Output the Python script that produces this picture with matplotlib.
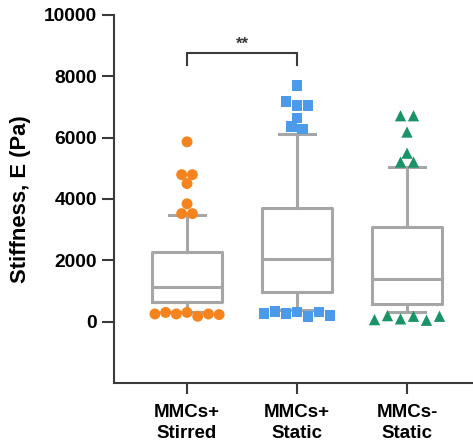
import matplotlib
matplotlib.use("Agg")
import matplotlib.pyplot as plt
import numpy as np

plt.rcParams['font.family'] = ['Liberation Sans', 'DejaVu Sans']
plt.rcParams['font.weight'] = 'bold'

categories = ["MMCs+\nStirred", "MMCs+\nStatic", "MMCs-\nStatic"]

# box statistics (Pa)
q1 = [630, 970, 590]
medians = [1120, 2050, 1400]
q3 = [2260, 3700, 3070]
whislo = [330, 380, 300]
whishi = [3460, 6110, 5030]

# individual points shown beyond the whiskers (Pa), listed top-down, left-right
stirred_pts = [5860, 4790, 4790, 4500, 3840, 3520, 3520,
               250, 300, 250, 300, 175, 250, 230]
static_pts = [7690, 7175, 7035, 7035, 6635, 6360, 6275,
              260, 335, 260, 315, 175, 315, 205]
minus_pts = [6710, 6710, 6180, 5490, 5200, 5200,
             65, 195, 90, 175, 45, 175]
point_sets = [stirred_pts, static_pts, minus_pts]

colors = ["#F5841F", "#4B9BEA", "#1A9466"]
markers = ["o", "s", "^"]
marker_sizes = [62, 58, 66]
spacing_px = [10.7, 11.0, 13.0]

sig_label = "**"

fig = plt.figure(figsize=(4.73, 4.42), dpi=100)
ax = fig.add_axes([0.241, 0.1335, 0.759, 0.833])
ax.set_xlim(-0.664, 2.6)
ax.set_ylim(-2000, 10000)

box_grey = "#A6A6A6"
stats = []
for i in range(3):
    stats.append(dict(med=medians[i], q1=q1[i], q3=q3[i],
                      whislo=whislo[i], whishi=whishi[i], fliers=[]))
ax.bxp(stats, positions=range(3), widths=0.64, showfliers=False,
       boxprops=dict(color=box_grey, linewidth=2.2),
       medianprops=dict(color=box_grey, linewidth=2.2),
       whiskerprops=dict(color=box_grey, linewidth=2.2),
       capprops=dict(color=box_grey, linewidth=2.2),
       capwidths=0.32, manage_ticks=False, zorder=2)

# row-based point layout: points close in value share a row, centred on group
fig.canvas.draw()
trans = ax.transData
inv = trans.inverted()
for i, pts in enumerate(point_sets):
    xc_px = trans.transform((i, 0))[0]
    ypx = [trans.transform((i, v))[1] for v in pts]
    rows = []
    for j in range(len(pts)):
        if rows and abs(ypx[j] - ypx[rows[-1][0]]) < 6.0:
            rows[-1].append(j)
        else:
            rows.append([j])
    xs = [0.0] * len(pts)
    for row in rows:
        n = len(row)
        for k, j in enumerate(row):
            xpx = xc_px + (k - (n - 1) / 2.0) * spacing_px[i]
            xs[j] = inv.transform((xpx, ypx[j]))[0]
    ax.scatter(xs, pts, s=marker_sizes[i], marker=markers[i], color=colors[i],
               edgecolors='none', zorder=3, clip_on=False)

# significance bracket
bracket_color = "#3A3A3A"
ax.plot([0, 0, 1, 1], [8370, 8770, 8770, 8370], color=bracket_color,
        linewidth=1.5, solid_joinstyle='miter')
ax.text(0.5, 8800, sig_label, ha='center', va='bottom', fontsize=12,
        fontweight='bold', color=bracket_color)

ax.set_xticks(range(3))
ax.set_xticklabels(categories, fontsize=13.5, fontweight='bold', linespacing=1.35)
ax.set_yticks([0, 2000, 4000, 6000, 8000, 10000])
ax.set_yticklabels(["0", "2000", "4000", "6000", "8000", "10000"],
                   fontsize=13.8, fontweight='bold')
ax.tick_params(axis='y', length=9, width=1.5, color="#3A3A3A", pad=3)
ax.tick_params(axis='x', length=8, width=1.5, color="#3A3A3A", pad=7)
for s in ['top', 'right']:
    ax.spines[s].set_visible(False)
for s in ['left', 'bottom']:
    ax.spines[s].set_linewidth(1.5)
    ax.spines[s].set_color("#3A3A3A")
ax.set_ylabel("Stiffness, E (Pa)", fontsize=15.8, fontweight='bold')
ax.yaxis.set_label_coords(-0.231, 0.5)

fig.savefig("out.png", dpi=100)
